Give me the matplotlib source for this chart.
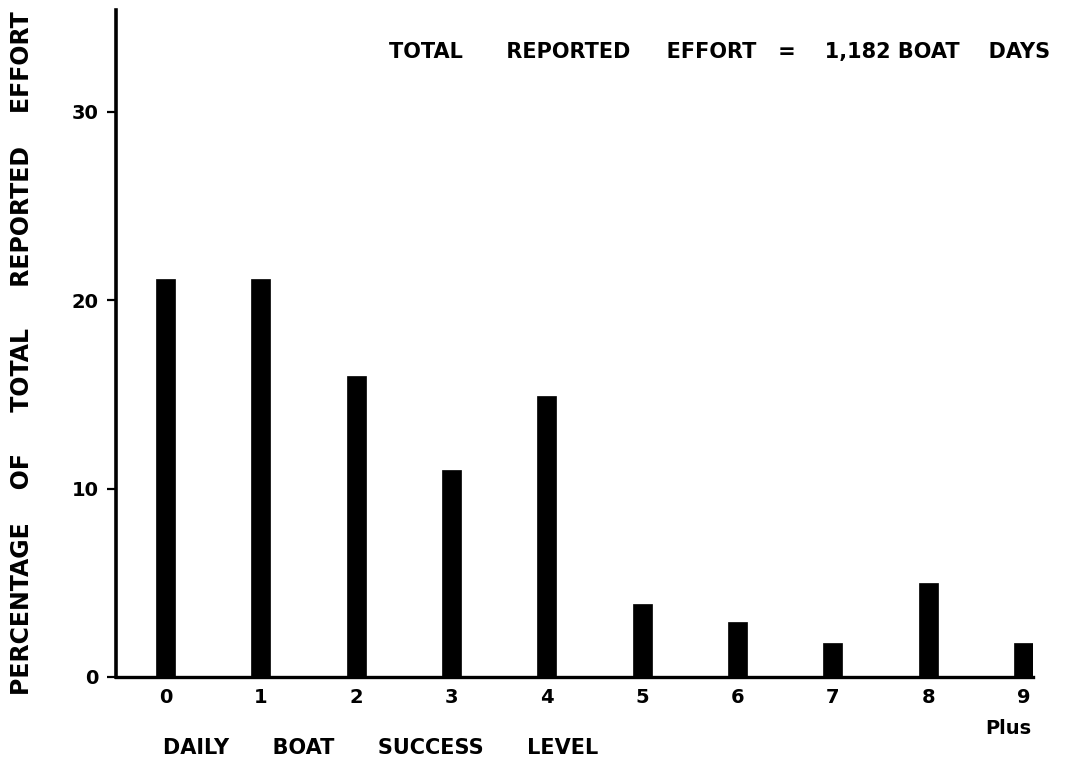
import matplotlib
matplotlib.use("Agg")
import matplotlib.pyplot as plt

levels = [0, 1, 2, 3, 4, 5, 6, 7, 8, 9]
tick_labels = ["0", "1", "2", "3", "4", "5", "6", "7", "8", "9"]
percent = [21.1, 21.1, 16.0, 11.0, 14.9, 3.9, 2.9, 1.8, 5.0, 1.8]
y_ticks = [0, 10, 20, 30]

plt.rcParams['font.family'] = ['DejaVu Sans']
plt.rcParams['font.weight'] = 'bold'

W, H = 1068, 766
fig = plt.figure(figsize=(W/100, H/100), dpi=100)
ax = fig.add_axes([116/W, 1 - 677/H, (1033-116)/W, (677-10)/H])

ax.bar(levels, percent, width=0.2, color='black', edgecolor='black', linewidth=0.5)
ax.set_xlim(-0.52, 9.1)
ax.set_ylim(0, 35.4)

for s in ['top', 'right']:
    ax.spines[s].set_visible(False)
ax.spines['left'].set_linewidth(2.6)
ax.spines['bottom'].set_linewidth(2.4)

ax.set_yticks(y_ticks)
ax.set_yticklabels([str(v) for v in y_ticks], fontsize=14, fontweight='bold')
ax.tick_params(axis='y', length=6.5, width=1.6, pad=6)
ax.set_xticks(levels)
ax.set_xticklabels(tick_labels, fontsize=14, fontweight='bold')
ax.tick_params(axis='x', length=0, pad=8)

fig.text(1008/W, 1 - 728/H, "Plus", fontsize=14, fontweight='bold',
         ha='center', va='center')

fig.text(22/W, 1 - 353/H, "PERCENTAGE    OF     TOTAL     REPORTED    EFFORT",
         fontsize=17, fontweight='bold', rotation=90, ha='center', va='center')

fig.text(163/W, 1 - 748/H, "DAILY      BOAT      SUCCESS      LEVEL", fontsize=15,
         fontweight='bold', ha='left', va='center')
fig.text(1050/W, 1 - 52/H,
         "TOTAL      REPORTED     EFFORT   =    1,182 BOAT    DAYS",
         fontsize=15, fontweight='bold', ha='right', va='center')

fig.savefig("out.png", dpi=100)
